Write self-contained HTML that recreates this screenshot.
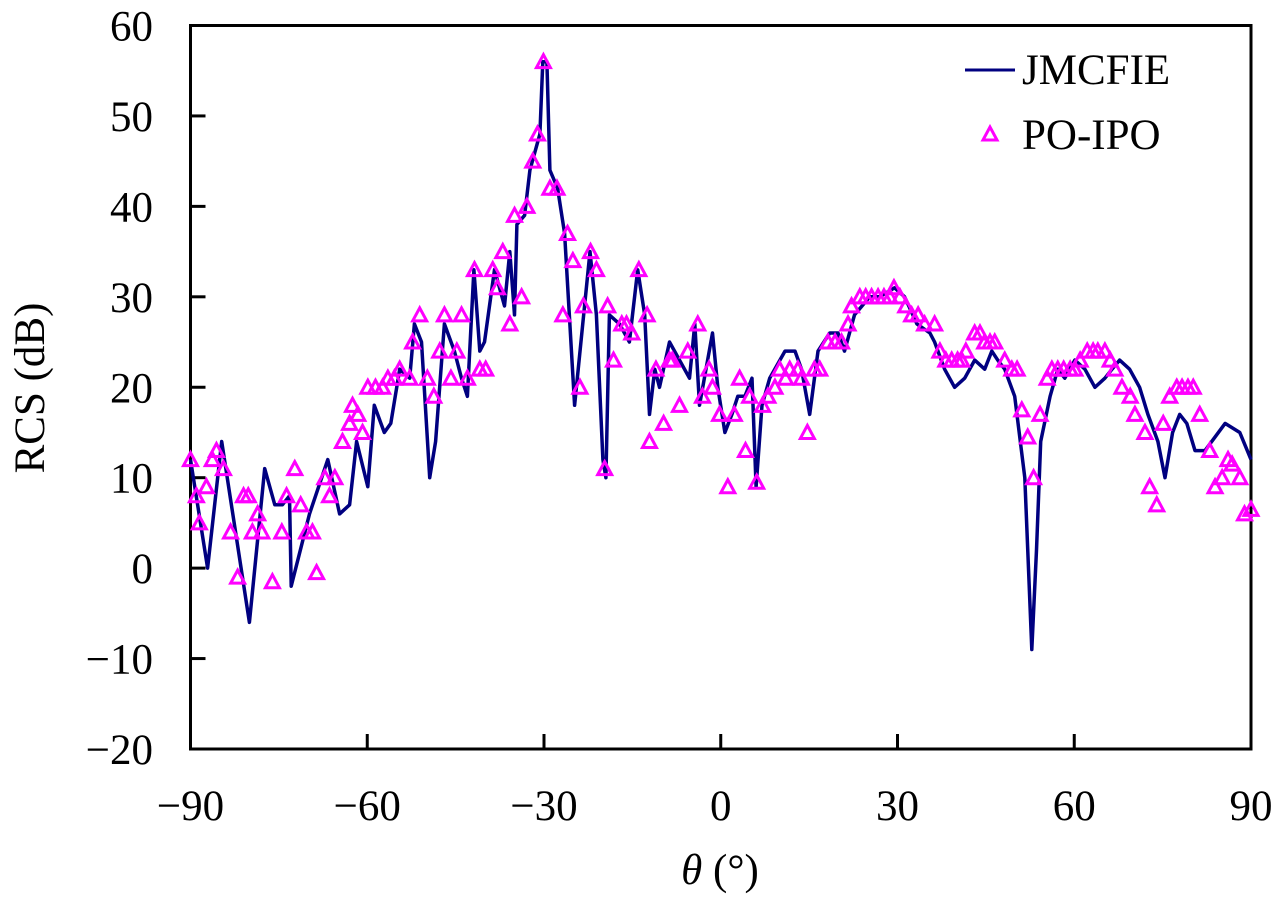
<!DOCTYPE html>
<html><head><meta charset="utf-8"><style>
body{margin:0;background:#fff}
svg text{font-family:"Liberation Serif",serif;fill:#000}
</style></head><body>
<svg id="c" width="1280" height="904" viewBox="0 0 1280 904"></svg>
<script>
const xTicks=[-90,-60,-30,0,30,60,90];
const yTicks=[-20,-10,0,10,20,30,40,50,60];
const lineTheta=[-90,-87.1,-84.7,-80,-77.4,-75.7,-74.4,-73.2,-72.9,-69.8,-66.7,-64.7,-63,-61.8,-59.9,-58.8,-57.1,-56,-54.5,-52.8,-52,-50.8,-49.4,-48.4,-46.9,-45.2,-44,-43,-41.9,-40.9,-40.1,-38.4,-36.7,-35.8,-35,-34.6,-33.3,-32.4,-30.7,-30.2,-29.5,-29,-27.7,-26.5,-24.8,-22.2,-21.1,-20,-19.5,-18.9,-17.2,-15.5,-14.1,-12.9,-12.1,-11.2,-10.4,-8.7,-7,-5.3,-4.4,-3.6,-1.4,-0.5,0.7,1.9,2.9,4.1,5.3,6,7,8.3,10.9,12.6,13.7,15.1,16.5,18.5,19.9,21,22.7,25.3,27,29.5,31.2,33.3,35.5,36.3,38,39.7,41.4,43.1,44.8,46,47,48.2,49.9,51.6,52.8,53.6,54.3,55.9,57.2,58.4,60.1,61.8,63.5,65.2,66.4,67.7,69.4,71.1,72.5,74.2,75.4,76.7,77.9,79.1,80.5,82.2,85.6,88.1,90];
const lineRcs=[12,0,14,-6,11,7,7,8,-2,6,12,6,7,14,9,18,15,16,22,21,27,25,10,14,27,24,21,19,33,24,25,33,29,35,28,38,39,44,48,56,56,44,42,37,18,35,28,12,10,28,27,25,33,28,17,22,20,25,23,21,27,18,26,20,15,17,19,19,21,9,18,21,24,24,22,17,24,26,26,24,28,30,30,31,30,27,26,25,22,20,21,23,22,24,23,22,19,10,-9,2,14,19,22,21,23,22,20,21,22,23,22,20,17,14,10,15,17,16,13,13,16,15,12];
const triTheta=[-90,-89,-88.5,-87.3,-86.3,-85.6,-84.4,-83.2,-82,-81,-80.2,-79.5,-78.6,-77.9,-76.1,-74.5,-73.7,-72.3,-71.3,-70.3,-69.3,-68.6,-67.2,-66.4,-65.5,-64.2,-63,-62.5,-61.6,-60.8,-59.9,-58.6,-57.4,-56.5,-55.4,-54.5,-52.8,-52.3,-51.1,-49.8,-48.7,-47.7,-46.9,-45.8,-44.8,-44,-43,-41.8,-40.9,-39.9,-38.7,-37.9,-37,-35.8,-35,-33.8,-32.9,-31.9,-31.1,-30.1,-29,-27.8,-26.8,-26,-25.1,-23.9,-23.3,-22.1,-21.1,-19.7,-19.2,-18.2,-16.8,-16,-15.1,-13.9,-12.5,-12.1,-11,-9.7,-8.7,-8.2,-7,-5.6,-3.9,-3.1,-2,-1.4,-0.2,1.2,2.3,3.2,4.2,4.9,6.1,7.1,8,9.2,10,11,11.7,13.1,13.7,14.7,15.9,16.8,18.2,19.4,20.5,21.6,22.2,23.6,24.6,25.6,26.7,27.7,28.7,29.4,30.4,31.4,32.4,33.5,34.6,36.3,37.2,38.2,39.2,40.2,40.9,41.6,43.1,44,44.8,45.7,46.5,48.2,49.4,50.3,51.1,52.1,53.1,54.2,55.4,56.2,57.2,58.2,59.3,60.1,61,62.2,63.2,64,65.2,66.1,66.9,68.1,69.5,70.3,72,72.8,74,75.1,76.2,77.4,78.3,79.3,80.2,81.3,83,83.9,85.1,86.1,86.8,88.1,88.9,90];
const triRcs=[12,8,5,9,12,13,11,4,-1,8,8,4,6,4,-1.5,4,8,11,7,4,4,-0.5,10,8,10,14,16,18,17,15,20,20,20,21,21,22,21,25,28,21,19,24,28,21,24,28,21,33,22,22,33,31,35,27,39,30,40,45,48,56,42,42,28,37,34,20,29,35,33,11,29,23,27,27,26,33,28,14,22,16,23,23,18,24,27,19,22,20,17,9,17,21,13,19,9.5,18,19,20,22,21,22,22,21,15,22,22,25,25,25,27,29,30,30,30,30,30,30,31,30,29,28,28,27,27,24,23,23,23,23,24,26,26,25,25,25,23,22,22,17.5,14.5,10,17,21,22,22,22,22,22,23,24,24,24,24,23,22,20,19,17,15,9,7,16,19,20,20,20,20,17,13,9,10,12,11.5,10,6,6.5];

const NS="http://www.w3.org/2000/svg";
const svg=document.getElementById('c');
const X0=190.5,X1=1251,Y0=749,Y1=25.5;
function xs(v){return X0+(v+90)/180*(X1-X0);}
function ys(v){return Y0-(v+20)/80*(Y0-Y1);}
function mk(t,a){const e=document.createElementNS(NS,t);for(const k in a)e.setAttribute(k,a[k]);svg.appendChild(e);return e;}

const frame=mk('rect',{x:X0,y:Y1,width:X1-X0,height:Y0-Y1,fill:'none',stroke:'#000','stroke-width':3});



xTicks.forEach(v=>{
  const t=mk('line',{x1:xs(v),x2:xs(v),y1:Y0,y2:Y0-15,stroke:'#000','stroke-width':3});
  
  
  const l=mk('text',{x:xs(v),y:820,'font-size':43,'text-anchor':'middle'});
  l.textContent=(v<0?'\u2212':'')+Math.abs(v);
  
  
});
yTicks.forEach(v=>{
  const t=mk('line',{x1:X0,x2:X0+15,y1:ys(v),y2:ys(v),stroke:'#000','stroke-width':3});
  
  
  const l=mk('text',{x:153,y:ys(v)+15,'font-size':43,'text-anchor':'end'});
  l.textContent=(v<0?'\u2212':'')+Math.abs(v);
  
  
});

const d=lineTheta.map((t,i)=>(i?'L':'M')+xs(t).toFixed(1)+' '+ys(lineRcs[i]).toFixed(1)).join(' ');
const pl=mk('path',{d:d,fill:'none',stroke:'#000080','stroke-width':3.5,'stroke-linejoin':'round'});



function tri(cx,cy){return `${cx},${cy-7} ${cx-7},${cy+6} ${cx+7},${cy+6}`;}
triTheta.forEach((t,i)=>{
  const p=mk('polygon',{points:tri(xs(t),ys(triRcs[i])),fill:'none',stroke:'#ff00ff','stroke-width':3});
  
  
});

const ll=mk('line',{x1:965,x2:1015,y1:70,y2:70,stroke:'#000080','stroke-width':3});


const lt=mk('text',{x:1022,y:84,'font-size':43});lt.textContent='JMCFIE';


const lm=mk('polygon',{points:tri(990,134),fill:'none',stroke:'#ff00ff','stroke-width':3});


const lt2=mk('text',{x:1022,y:149,'font-size':43});lt2.textContent='PO-IPO';



const yl=mk('text',{x:0,y:0,'font-size':43,'text-anchor':'middle',transform:'translate(44,388) rotate(-90)'});
yl.textContent='RCS (dB)';


const xl=mk('text',{x:720,y:884,'font-size':43,'text-anchor':'middle'});
xl.innerHTML='<tspan font-style="italic">θ</tspan> (°)';


</script>
</body></html>
